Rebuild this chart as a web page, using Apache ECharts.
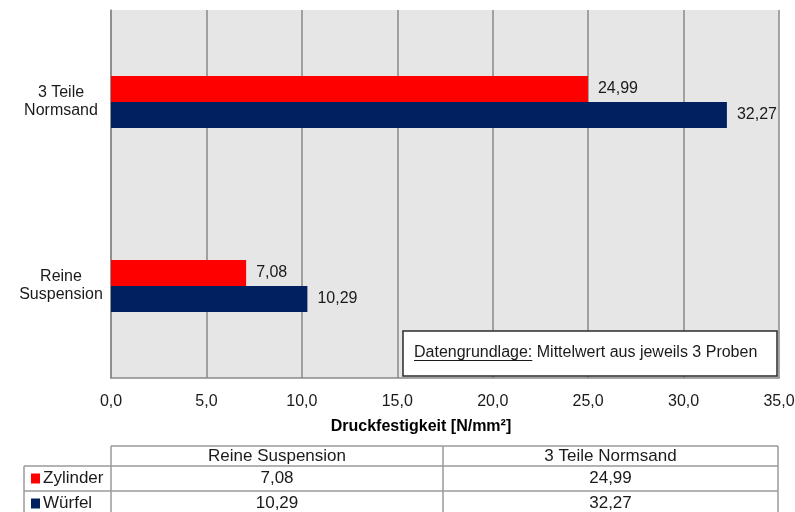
<!DOCTYPE html>
<html>
<head>
<meta charset="utf-8">
<title>Druckfestigkeit</title>
<script src="https://cdn.jsdelivr.net/npm/echarts@6/dist/echarts.min.js"></script>
<style>
  html, body { margin: 0; padding: 0; background: #ffffff; }
  #chart { width: 795px; height: 512px; }
</style>
</head>
<body>
<div id="chart"></div>
<script>
// Probekörper-Gruppen (von unten nach oben auf der Kategorieachse)
const categories = ['Reine Suspension', '3 Teile Normsand'];
// Mittlere Druckfestigkeit in N/mm² je Probekörperform
const seriesNames = ['Zylinder', 'Würfel'];
const zylinder = [7.08, 24.99];
const wuerfel = [10.29, 32.27];
const seriesColors = ['#ff0000', '#002060'];
// Achsenskala
const axisMin = 0;
const axisMax = 35;
const axisStep = 5;
const axisTitle = 'Druckfestigkeit [N/mm²]';
const noteLabel = 'Datengrundlage:';
const noteText = ' Mittelwert aus jeweils 3 Proben';

const FONT = '"Liberation Sans", Arial, sans-serif';
const TEXT = '#1a1a1a';
const fmt1 = v => v.toFixed(1).replace('.', ',');
const fmt2 = v => v.toFixed(2).replace('.', ',');

const chart = echarts.init(document.getElementById('chart'), null, { renderer: 'canvas' });

// Datentabelle unter dem Diagramm
function buildTable() {
  const cols = [24, 111, 443, 778];
  const rows = [446, 466, 491, 516];
  const lineStyle = { stroke: '#9a9a9a', lineWidth: 1.5 };
  const els = [];
  const line = (x1, y1, x2, y2) => els.push({
    type: 'line', silent: true,
    shape: { x1, y1, x2, y2 }, style: lineStyle
  });
  // Kopfzeile nur über den Wertspalten
  line(cols[1], rows[0], cols[3], rows[0]);
  for (let r = 1; r < rows.length; r++) line(cols[0], rows[r], cols[3], rows[r]);
  line(cols[0], rows[1], cols[0], rows[3]);
  for (let c = 1; c < cols.length; c++) line(cols[c], rows[0], cols[c], rows[3]);

  const cellText = (text, x, y, align) => els.push({
    type: 'text', silent: true,
    style: {
      text, x, y, fill: TEXT, font: '17px ' + FONT,
      textAlign: align, textVerticalAlign: 'middle'
    }
  });
  categories.forEach((c, i) => {
    cellText(c, (cols[i + 1] + cols[i + 2]) / 2, (rows[0] + rows[1]) / 2, 'center');
  });
  const values = [zylinder, wuerfel];
  seriesNames.forEach((name, s) => {
    const yMid = (rows[s + 1] + rows[s + 2]) / 2;
    els.push({
      type: 'rect', silent: true,
      shape: { x: 31, y: yMid - 5, width: 9, height: 10 },
      style: { fill: seriesColors[s] }
    });
    cellText(name, 43, yMid, 'left');
    values[s].forEach((v, i) => {
      cellText(fmt2(v), (cols[i + 1] + cols[i + 2]) / 2, yMid, 'center');
    });
  });
  return els;
}

// Hinweisbox im Diagrammbereich
function buildNote() {
  const x = 403, y = 331, w = 374, h = 45;
  const tx = 414, ty = 353;
  const labelWidth = echarts.format.getTextRect
    ? echarts.format.getTextRect(noteLabel, '16px ' + FONT).width
    : 117;
  return [
    {
      type: 'rect', silent: true, z: 10,
      shape: { x, y, width: w, height: h },
      style: { fill: '#ffffff', stroke: '#2b2b2b', lineWidth: 1.5 }
    },
    {
      type: 'text', silent: true, z: 11,
      style: {
        text: noteLabel, x: tx, y: ty, fill: TEXT,
        font: '16px ' + FONT, textVerticalAlign: 'middle'
      }
    },
    {
      type: 'line', silent: true, z: 11,
      shape: { x1: tx, y1: ty + 7.5, x2: tx + labelWidth, y2: ty + 7.5 },
      style: { stroke: TEXT, lineWidth: 1 }
    },
    {
      type: 'text', silent: true, z: 11,
      style: {
        text: noteText, x: tx + labelWidth, y: ty, fill: TEXT,
        font: '16px ' + FONT, textVerticalAlign: 'middle'
      }
    }
  ];
}

const barSeries = [zylinder, wuerfel].map((data, s) => ({
  name: seriesNames[s],
  type: 'bar',
  data,
  barWidth: 26,
  barGap: '0%',
  itemStyle: { color: seriesColors[s] },
  label: {
    show: true,
    position: 'right',
    distance: 10,
    color: TEXT,
    fontFamily: FONT,
    fontSize: 16,
    formatter: p => fmt2(p.value)
  }
}));

chart.setOption({
  animation: false,
  backgroundColor: '#ffffff',
  textStyle: { fontFamily: FONT },
  grid: {
    left: 111, right: 16, top: 10, bottom: 134,
    outerBoundsMode: 'none',
    containLabel: false,
    show: true, backgroundColor: '#e6e6e6', borderWidth: 0
  },
  xAxis: {
    type: 'value',
    min: axisMin, max: axisMax, interval: axisStep,
    axisLine: { show: true, lineStyle: { color: '#8a8a8a', width: 1.5 } },
    axisTick: { show: false },
    axisLabel: {
      color: TEXT, fontSize: 16, fontFamily: FONT, margin: 16,
      formatter: v => fmt1(v)
    },
    splitLine: { show: true, lineStyle: { color: '#888888', width: 1.5 } }
  },
  yAxis: {
    type: 'category',
    data: categories,
    axisLine: { show: true, lineStyle: { color: '#8a8a8a', width: 1.5 } },
    axisTick: { show: false },
    axisLabel: {
      color: TEXT, fontSize: 16, fontFamily: FONT,
      align: 'center', margin: 50, lineHeight: 18, padding: [7, 0, 0, 0],
      formatter: v => {
        const k = v.lastIndexOf(' ');
        return k > 0 ? v.slice(0, k) + '\n' + v.slice(k + 1) : v;
      }
    },
    splitLine: { show: false }
  },
  series: barSeries,
  graphic: [
    {
      type: 'text', silent: true,
      style: {
        text: axisTitle, x: 421, y: 427, fill: '#000000',
        font: 'bold 16px ' + FONT, textAlign: 'center', textVerticalAlign: 'middle'
      }
    }
  ].concat(buildNote(), buildTable())
});
</script>
</body>
</html>
